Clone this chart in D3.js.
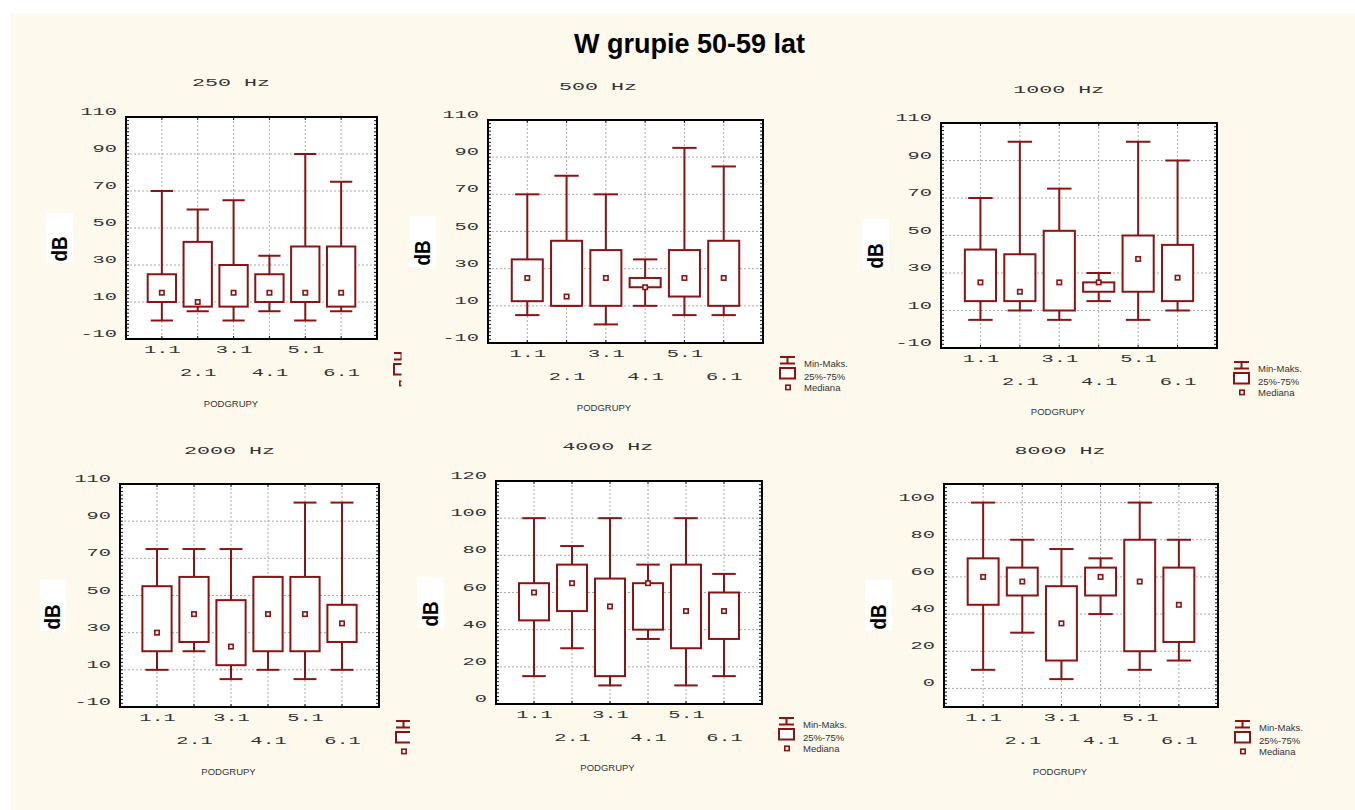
<!DOCTYPE html>
<html>
<head>
<meta charset="utf-8">
<script src="https://cdn.jsdelivr.net/npm/d3@7"></script>
<style>
  body { margin: 0; background: #ffffff; }
  svg { display: block; }
</style>
</head>
<body>
<script>
// Hearing thresholds (dB) by subgroup, age group 50-59, one panel per frequency
const categories = ['1.1', '2.1', '3.1', '4.1', '5.1', '6.1'];
const frequencies = ['250 Hz', '500 Hz', '1000 Hz', '2000 Hz', '4000 Hz', '8000 Hz'];

// rows follow `frequencies`, columns follow `categories`
const minVals = [
  [0, 5, 0, 5, 0, 5],
  [5, 10, 0, 10, 5, 5],
  [5, 10, 5, 15, 5, 10],
  [10, 20, 5, 10, 5, 10],
  [15, 30, 10, 35, 10, 15],
  [10, 30, 5, 40, 10, 15]
];
const q1Vals = [
  [10, 7.5, 7.5, 10, 10, 7.5],
  [12.5, 10, 10, 20, 15, 10],
  [15, 15, 10, 20, 20, 15],
  [20, 25, 12.5, 20, 20, 25],
  [45, 50, 15, 40, 30, 35],
  [45, 50, 15, 50, 20, 25]
];
const medianVals = [
  [15, 10, 15, 15, 15, 15],
  [25, 15, 25, 20, 25, 25],
  [25, 20, 25, 25, 37.5, 27.5],
  [30, 40, 22.5, 40, 40, 35],
  [60, 65, 52.5, 65, 50, 50],
  [60, 57.5, 35, 60, 57.5, 45]
];
const q3Vals = [
  [25, 42.5, 30, 25, 40, 40],
  [35, 45, 40, 25, 40, 45],
  [42.5, 40, 52.5, 25, 50, 45],
  [55, 60, 47.5, 60, 60, 45],
  [65, 75, 67.5, 65, 75, 60],
  [70, 65, 55, 65, 80, 65]
];
const maxVals = [
  [70, 60, 65, 35, 90, 75],
  [70, 80, 70, 35, 95, 85],
  [70, 100, 75, 30, 100, 90],
  [75, 75, 75, 60, 100, 100],
  [100, 85, 100, 75, 100, 70],
  [100, 80, 75, 70, 100, 80]
];

// value axes
const ticksDb = [-10, 10, 30, 50, 70, 90, 110];
const ticks4k = [0, 20, 40, 60, 80, 100, 120];
const ticks8k = [0, 20, 40, 60, 80, 100];
const yTicks = [ticksDb, ticksDb, ticksDb, ticksDb, ticks4k, ticks8k];
const yDomains = [[-10, 110], [-10, 110], [-10, 110], [-10, 110], [0, 120], [-10, 110]];

const legendLabels = ['Min-Maks.', '25%-75%', 'Mediana'];
const mainTitle = 'W grupie 50-59 lat';
const xTitle = 'PODGRUPY';
const yTitle = 'dB';

// ---- layout ----
const W = 1355, H = 810;
const RED = '#8a1414';
const INK = '#333333';
const MONO = '"Liberation Mono", "DejaVu Sans Mono", monospace';
const SANS = '"Liberation Sans", Arial, sans-serif';

const frames = [
  { x0: 126, x1: 377, y0: 117, y1: 339 },
  { x0: 488, x1: 763, y0: 120, y1: 343 },
  { x0: 941, x1: 1217, y0: 123, y1: 348 },
  { x0: 120, x1: 379, y0: 484, y1: 707 },
  { x0: 496, x1: 762, y0: 481, y1: 704 },
  { x0: 944, x1: 1218, y0: 484, y1: 707 }
];
const titlePos = [[231, 82.7], [598, 86.7], [1058.7, 89], [229.5, 450], [607.8, 446.7], [1060, 450]];
const xTitlePos = [[231, 403.3], [604, 407.7], [1058, 411.7], [228.5, 771.7], [607.5, 767.7], [1060, 771.7]];
const yBoxes = [
  [46, 213, 27, 50], [410, 216, 26, 51], [862, 219, 27, 51],
  [40, 580, 26, 51], [417, 577, 27, 51], [865, 580, 27, 51]
];
// legends of the left column are cut off by the neighbouring panel
const legendClip = [401.5, null, null, 410, null, null];

const svg = d3.select('body').append('svg')
  .attr('width', W).attr('height', H);

svg.append('rect').attr('x', 0).attr('y', 0).attr('width', W).attr('height', H).attr('fill', '#ffffff');
svg.append('rect').attr('x', 11).attr('y', 13).attr('width', W - 11).attr('height', H - 13).attr('fill', '#fef9ed');

svg.append('text')
  .attr('x', 689.5).attr('y', 53)
  .attr('text-anchor', 'middle')
  .attr('font-family', SANS).attr('font-weight', 'bold').attr('font-size', 27)
  .attr('fill', '#000')
  .text(mainTitle);

const defs = svg.append('defs');

function stretched(sel, cell) {
  sel.attr('font-family', MONO).attr('font-size', 10.2).attr('fill', INK)
    .attr('textLength', function () { return this.textContent.length * cell; })
    .attr('lengthAdjust', 'spacingAndGlyphs');
}

frequencies.forEach((freq, i) => {
  const f = frames[i];
  const g = svg.append('g');

  const x = d3.scaleLinear().domain([0, 7]).range([f.x0, f.x1]);
  const y = d3.scaleLinear().domain(yDomains[i]).range([f.y1, f.y0]);
  const slot = x(1) - x(0);

  // panel title
  g.append('text')
    .attr('x', titlePos[i][0]).attr('y', titlePos[i][1] + 3.5)
    .attr('text-anchor', 'middle')
    .text(freq)
    .call(stretched, 13);

  // plot area
  g.append('rect')
    .attr('x', f.x0).attr('y', f.y0)
    .attr('width', f.x1 - f.x0).attr('height', f.y1 - f.y0)
    .attr('fill', '#ffffff');

  // dotted grid
  const grid = g.append('g').attr('stroke', '#aaaaaa').attr('stroke-width', 1).attr('stroke-dasharray', '2,2');
  grid.selectAll('line.h')
    .data(yTicks[i].filter(v => y(v) > f.y0 + 1 && y(v) < f.y1 - 1))
    .join('line')
    .attr('x1', f.x0).attr('x2', f.x1)
    .attr('y1', d => y(d)).attr('y2', d => y(d));
  grid.selectAll('line.v')
    .data(categories.map((c, j) => j + 1))
    .join('line')
    .attr('x1', d => x(d)).attr('x2', d => x(d))
    .attr('y1', f.y0).attr('y2', f.y1);

  // minor ticks along the frame
  const minor = d3.range(yDomains[i][0] + 2, yDomains[i][1], 2);
  const mt = g.append('g').attr('stroke', '#111').attr('stroke-width', 1);
  mt.selectAll('line.l').data(minor).join('line')
    .attr('x1', f.x0).attr('x2', f.x0 + 3).attr('y1', d => y(d)).attr('y2', d => y(d));
  mt.selectAll('line.r').data(minor).join('line')
    .attr('x1', f.x1 - 3).attr('x2', f.x1).attr('y1', d => y(d)).attr('y2', d => y(d));
  mt.selectAll('line.t').data(d3.range(1, 7)).join('line')
    .attr('x1', d => x(d)).attr('x2', d => x(d)).attr('y1', f.y0).attr('y2', f.y0 + 3);
  mt.selectAll('line.b').data(d3.range(1, 7)).join('line')
    .attr('x1', d => x(d)).attr('x2', d => x(d)).attr('y1', f.y1 - 3).attr('y2', f.y1);

  // box plots
  const rows = categories.map((c, j) => ({
    k: j + 1,
    min: minVals[i][j], q1: q1Vals[i][j], med: medianVals[i][j],
    q3: q3Vals[i][j], max: maxVals[i][j]
  }));
  const capW = slot * 0.62, boxW = slot * 0.79;
  const bx = g.append('g').attr('stroke', RED).attr('stroke-width', 2).attr('fill', 'none');
  const item = bx.selectAll('g').data(rows).join('g');
  item.append('line')
    .attr('x1', d => x(d.k)).attr('x2', d => x(d.k))
    .attr('y1', d => y(d.max)).attr('y2', d => y(d.min));
  item.append('line')
    .attr('x1', d => x(d.k) - capW / 2).attr('x2', d => x(d.k) + capW / 2)
    .attr('y1', d => y(d.max)).attr('y2', d => y(d.max));
  item.append('line')
    .attr('x1', d => x(d.k) - capW / 2).attr('x2', d => x(d.k) + capW / 2)
    .attr('y1', d => y(d.min)).attr('y2', d => y(d.min));
  item.append('rect')
    .attr('x', d => x(d.k) - boxW / 2).attr('width', boxW)
    .attr('y', d => y(d.q3)).attr('height', d => y(d.q1) - y(d.q3))
    .attr('fill', '#ffffff');
  item.append('rect')
    .attr('x', d => x(d.k) - 2.2).attr('y', d => y(d.med) - 2.2)
    .attr('width', 4.4).attr('height', 4.4)
    .attr('stroke-width', 1.6).attr('fill', '#ffffff');

  // frame
  g.append('rect')
    .attr('x', f.x0).attr('y', f.y0)
    .attr('width', f.x1 - f.x0).attr('height', f.y1 - f.y0)
    .attr('fill', 'none').attr('stroke', '#000').attr('stroke-width', 2);

  // value axis
  const yAxis = g.append('g').attr('transform', `translate(${f.x0},0)`)
    .call(d3.axisLeft(y).tickValues(yTicks[i]).tickSize(0).tickPadding(9).tickFormat(d => String(d)));
  yAxis.select('.domain').remove();
  yAxis.selectAll('text').attr('dy', null).attr('y', -2.5).call(stretched, 12.2);

  // category axis, alternating rows
  const xAxis = g.append('g').attr('transform', `translate(0,${f.y1})`)
    .call(d3.axisBottom(x).tickValues(d3.range(1, 7)).tickSize(0).tickFormat(d => categories[d - 1]));
  xAxis.select('.domain').remove();
  xAxis.selectAll('text').attr('dy', null)
    .attr('y', d => (d % 2 === 1 ? 10 : 33) + 3.5)
    .call(stretched, 12.2);

  // axis titles
  g.append('text')
    .attr('x', xTitlePos[i][0]).attr('y', xTitlePos[i][1] + 3.4)
    .attr('text-anchor', 'middle')
    .attr('font-family', SANS).attr('font-size', 9.5).attr('fill', '#333')
    .text(xTitle);

  const yb = yBoxes[i];
  g.append('rect').attr('x', yb[0]).attr('y', yb[1]).attr('width', yb[2]).attr('height', yb[3]).attr('fill', '#ffffff');
  g.append('text')
    .attr('transform', `translate(${yb[0] + yb[2] - 6},${yb[1] + yb[3] - 1.5}) rotate(-90)`)
    .attr('font-family', SANS).attr('font-weight', 'bold').attr('font-size', 22)
    .attr('textLength', 25).attr('lengthAdjust', 'spacingAndGlyphs')
    .attr('fill', '#000')
    .text(yTitle);

  // legend
  const lg = g.append('g');
  if (legendClip[i] !== null) {
    const id = 'legclip' + i;
    defs.append('clipPath').attr('id', id)
      .append('rect').attr('x', 0).attr('y', 0).attr('width', legendClip[i]).attr('height', H);
    lg.attr('clip-path', `url(#${id})`);
  }
  const lx = f.x1 + 17, ly = f.y1 + 14, lw = 15;
  const sym = lg.append('g').attr('stroke', RED).attr('stroke-width', 2).attr('fill', 'none');
  sym.append('line').attr('x1', lx).attr('x2', lx + lw).attr('y1', ly).attr('y2', ly);
  sym.append('line').attr('x1', lx + lw / 2).attr('x2', lx + lw / 2).attr('y1', ly).attr('y2', ly + 6.5);
  sym.append('line').attr('x1', lx).attr('x2', lx + lw).attr('y1', ly + 6.5).attr('y2', ly + 6.5);
  sym.append('rect').attr('x', lx).attr('y', ly + 11).attr('width', lw).attr('height', 10.5).attr('fill', '#ffffff');
  sym.append('rect').attr('x', lx + lw / 2 - 1.7).attr('y', ly + 30.4 - 2.2)
    .attr('width', 4.4).attr('height', 4.4).attr('stroke-width', 1.6).attr('fill', '#ffffff');
  lg.selectAll('text.leg').data(legendLabels).join('text')
    .attr('x', lx + 24).attr('y', (d, k) => ly + [6.5, 19.5, 31][k] + 3.4)
    .attr('font-family', SANS).attr('font-size', 9.5).attr('fill', '#333')
    .text(d => d);
});
</script>
</body>
</html>
